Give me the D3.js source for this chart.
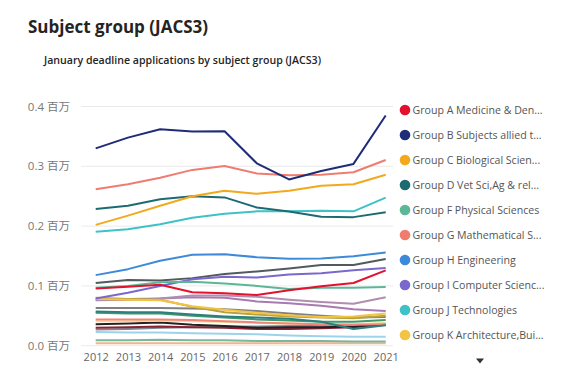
<!DOCTYPE html>
<html><head><meta charset="utf-8">
<script src="https://cdn.jsdelivr.net/npm/d3@7"></script>
<style>
html,body{margin:0;padding:0;background:#fff;}
svg{display:block;font-family:"Open Sans","Noto Sans CJK SC",sans-serif;}
</style></head>
<body>
<svg id="chart" width="564" height="383"></svg>
<script>
const years = ["2012","2013","2014","2015","2016","2017","2018","2019","2020","2021"];
const yTicks = [0, 0.1, 0.2, 0.3, 0.4];
const tickSuffix = " 百万";

const seriesNames = [
  "Group A Medicine & Den...",
  "Group B Subjects allied t...",
  "Group C Biological Scien...",
  "Group D Vet Sci,Ag & rel...",
  "Group F Physical Sciences",
  "Group G Mathematical S...",
  "Group H Engineering",
  "Group I Computer Scienc...",
  "Group J Technologies",
  "Group K Architecture,Bui...",
  "Group L Social studies",
  "Group M Law",
  "Group N Business & admin",
  "Group P Mass comms",
  "Group Q Linguistics",
  "Group R European languages",
  "Group T Non-European languages",
  "Group V Historical & philosophical",
  "Group W Creative arts & design",
  "Group X Education",
  "Group Y Combined arts",
  "Group Z Combined sciences",
  "Combined social sciences",
  "Combined arts & sciences",
  "Other combinations"
];
const seriesColors = [
  "#E3112E","#1F2C78","#F2A91C","#1C6B73","#5BB795","#F07C70","#3D8AD8","#7B68CF","#3EC2C5","#F3C443",
  "#515A5E","#B7A23C","#B18DB0","#A77AB2","#808080","#2C7F7E","#3E9A6C","#F2837A","#F3D88E","#222222",
  "#8C2234","#7C8B98","#9DD3EA","#7DB59A","#EFB58C"
];
const seriesValues = [
  [0.0955,0.0987,0.102,0.0893,0.0876,0.0848,0.0926,0.0996,0.1048,0.126],
  [0.330,0.348,0.362,0.358,0.3585,0.305,0.278,0.292,0.304,0.385],
  [0.202,0.2175,0.234,0.250,0.259,0.254,0.259,0.2675,0.270,0.286],
  [0.2285,0.234,0.245,0.250,0.248,0.231,0.2245,0.2155,0.215,0.223],
  [0.097,0.100,0.106,0.107,0.104,0.100,0.095,0.097,0.097,0.098],
  [0.2615,0.270,0.281,0.294,0.3005,0.288,0.285,0.286,0.290,0.3105],
  [0.118,0.128,0.142,0.152,0.153,0.148,0.1455,0.146,0.1495,0.156],
  [0.079,0.0886,0.0998,0.111,0.1155,0.114,0.119,0.121,0.126,0.130],
  [0.1907,0.1946,0.203,0.214,0.2207,0.2247,0.225,0.2258,0.2247,0.2475],
  [0.078,0.077,0.076,0.066,0.060,0.055,0.051,0.048,0.049,0.054],
  [0.105,0.110,0.109,0.113,0.120,0.124,0.129,0.135,0.135,0.145],
  [0.080,0.078,0.077,0.065,0.056,0.052,0.049,0.047,0.046,0.050],
  [0.077,0.078,0.079,0.084,0.084,0.082,0.077,0.073,0.070,0.081],
  [0.076,0.077,0.079,0.081,0.080,0.074,0.071,0.067,0.061,0.058],
  [0.063,0.063,0.063,0.062,0.061,0.058,0.054,0.050,0.047,0.048],
  [0.057,0.056,0.056,0.052,0.049,0.047,0.045,0.040,0.028,0.034],
  [0.055,0.054,0.054,0.050,0.047,0.044,0.042,0.040,0.040,0.043],
  [0.044,0.044,0.044,0.043,0.041,0.039,0.037,0.036,0.035,0.036],
  [0.041,0.041,0.042,0.041,0.040,0.038,0.037,0.036,0.036,0.038],
  [0.036,0.037,0.039,0.035,0.033,0.030,0.031,0.031,0.032,0.036],
  [0.030,0.031,0.032,0.031,0.030,0.028,0.028,0.029,0.031,0.036],
  [0.027,0.028,0.030,0.031,0.032,0.032,0.033,0.033,0.034,0.035],
  [0.023,0.022,0.022,0.021,0.020,0.019,0.017,0.016,0.015,0.015],
  [0.009,0.009,0.010,0.009,0.009,0.008,0.008,0.008,0.007,0.007],
  [0.004,0.004,0.004,0.004,0.004,0.004,0.004,0.004,0.004,0.004]
];
const legendCount = 10;

const svg = d3.select("#chart");
const x = d3.scalePoint().domain(years).range([95.7, 385.7]);
const y = d3.scaleLinear().domain([0, 0.4]).range([345.7, 106.5]);

svg.append("text").attr("x", 28).attr("y", 33)
  .attr("font-size", 17).attr("font-weight", 700).attr("fill", "#252423")
  .text("Subject group (JACS3)");
svg.append("text").attr("x", 44).attr("y", 64)
  .attr("font-size", 10.6).attr("font-weight", 600).attr("fill", "#252423")
  .text("January deadline applications by subject group (JACS3)");

// gridlines
svg.append("g").selectAll("line").data(yTicks).join("line")
  .attr("x1", 81).attr("x2", 393)
  .attr("y1", d => y(d)).attr("y2", d => y(d))
  .attr("stroke", "#EAEAEA").attr("stroke-width", 1);

// y axis labels
const yAxis = d3.axisLeft(y).tickValues(yTicks).tickSize(0).tickPadding(0)
  .tickFormat(d => d3.format(".1f")(d) + tickSuffix);
const gy = svg.append("g").attr("transform", "translate(70,0)").call(yAxis);
gy.select(".domain").remove();
gy.selectAll("text").attr("font-size", 11.5).attr("fill", "#777")
  .attr("font-family", "'Open Sans','Noto Sans CJK SC',sans-serif");

// x axis labels
const xAxis = d3.axisBottom(x).tickSize(0).tickPadding(0);
const gx = svg.append("g").attr("transform", "translate(0,353)").call(xAxis);
gx.select(".domain").remove();
gx.selectAll("text").attr("font-size", 11).attr("fill", "#666")
  .attr("font-family", "'Open Sans',sans-serif");

// lines
const line = d3.line().x((d, i) => x(years[i])).y(d => y(d));
const order = d3.range(seriesValues.length).reverse();
svg.append("g").selectAll("path").data(order).join("path")
  .attr("d", i => line(seriesValues[i]))
  .attr("fill", "none")
  .attr("stroke", i => seriesColors[i])
  .attr("stroke-width", 2)
  .attr("stroke-linejoin", "round");

// legend
const lg = svg.append("g").selectAll("g").data(d3.range(legendCount)).join("g")
  .attr("transform", i => `translate(405,${110 + i * 25})`);
lg.append("circle").attr("r", 5.3).attr("fill", i => seriesColors[i]);
lg.append("text").attr("x", 7.5).attr("dy", "0.35em")
  .attr("font-size", 10.6).attr("fill", "#555")
  .text(i => seriesNames[i]);

// scroll arrow
svg.append("path").attr("d", "M476,358.5 L484,358.5 L480,363.5 Z").attr("fill", "#333");
</script>
</body></html>
